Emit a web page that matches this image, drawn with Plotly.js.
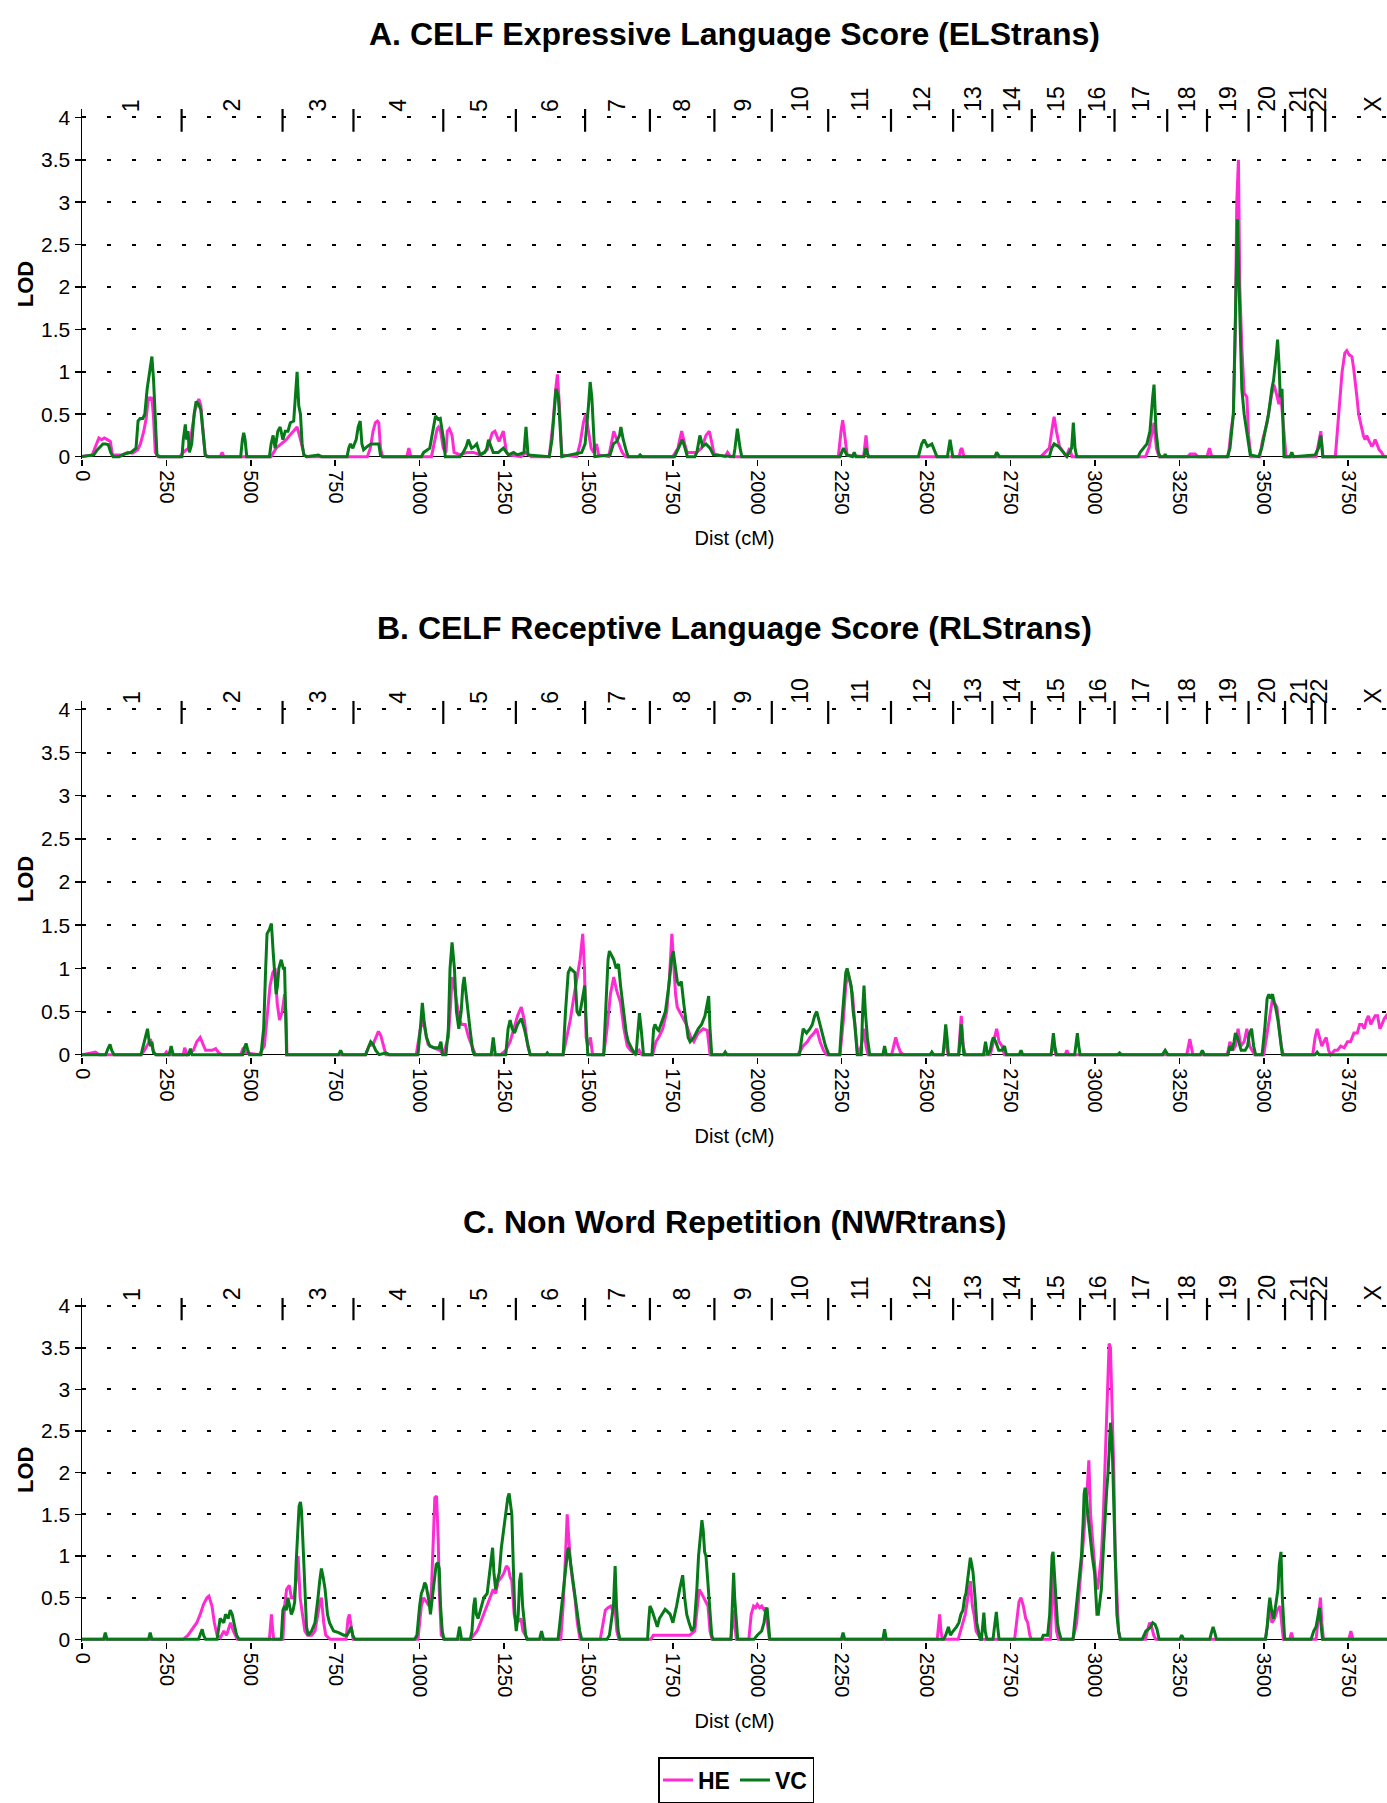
<!DOCTYPE html>
<html>
<head>
<meta charset="utf-8">
<script src="https://cdn.plot.ly/plotly-3.0.1.min.js"></script>
<style>
  html, body { margin: 0; padding: 0; background: #ffffff; }
  #chart { width: 1387px; height: 1803px; }
</style>
</head>
<body>
<div id="chart"></div>
<script>
// Chromosome labels and the map positions (cM) where each chromosome ends
const chromLabels = ['1','2','3','4','5','6','7','8','9','10','11','12','13','14','15','16','17','18','19','20','21','22','X'];
const chromEnds = [295, 594, 804, 1070, 1285, 1490, 1682, 1873, 2043, 2210, 2396, 2580, 2696, 2813, 2956, 3058, 3214, 3332, 3455, 3563, 3642, 3682, 3966];

const distTicks = [0, 250, 500, 750, 1000, 1250, 1500, 1750, 2000, 2250, 2500, 2750, 3000, 3250, 3500, 3750];
const lodTicks = [0, 0.5, 1, 1.5, 2, 2.5, 3, 3.5, 4];

const panelTitles = [
  'A. CELF Expressive Language Score (ELStrans)',
  'B. CELF Receptive Language Score (RLStrans)',
  'C. Non Word Repetition (NWRtrans)'
];

// ---- A: ELStrans, [cM, LOD] ----
const elsHE = [[0,0],[30,0.02],[40,0.12],[50,0.22],[58,0.2],[66,0.22],[75,0.2],[84,0.18],[90,0.02],[120,0.02],[135,0.05],[150,0.04],[165,0.08],[173,0.15],[183,0.3],[190,0.45],[197,0.7],[203,0.68],[207,0.7],[212,0.45],[217,0.05],[225,0],[290,0],[300,0.05],[315,0.1],[325,0.3],[335,0.55],[342,0.65],[346,0.68],[352,0.6],[358,0.3],[365,0.02],[375,0],[410,0],[415,0.05],[420,0],[560,0],[575,0.1],[590,0.15],[605,0.2],[615,0.25],[627,0.3],[637,0.35],[644,0.25],[652,0.1],[658,0.02],[665,0],[845,0],[854,0.1],[862,0.3],[869,0.4],[875,0.42],[879,0.4],[884,0.1],[890,0],[962,0],[968,0.1],[974,0],[1035,0],[1045,0.2],[1052,0.33],[1056,0.35],[1062,0.3],[1070,0.1],[1078,0.05],[1082,0.3],[1088,0.33],[1096,0.25],[1102,0.05],[1120,0.02],[1140,0.05],[1160,0.05],[1180,0.02],[1200,0.08],[1215,0.28],[1223,0.3],[1235,0.18],[1248,0.3],[1257,0.05],[1265,0.02],[1300,0],[1315,0.05],[1330,0],[1384,0],[1395,0.4],[1403,0.8],[1408,0.97],[1414,0.6],[1421,0.02],[1465,0],[1475,0.15],[1485,0.4],[1492,0.5],[1500,0.3],[1508,0.1],[1515,0.05],[1524,0.15],[1530,0.02],[1560,0],[1570,0.2],[1575,0.3],[1582,0.22],[1590,0.15],[1600,0.05],[1610,0],[1750,0],[1765,0.1],[1776,0.3],[1785,0.15],[1792,0.05],[1820,0.05],[1835,0.1],[1848,0.25],[1858,0.3],[1866,0.15],[1872,0.03],[1905,0],[1912,0.05],[1920,0],[2240,0],[2248,0.3],[2253,0.43],[2259,0.25],[2266,0.02],[2315,0],[2322,0.25],[2328,0],[2598,0],[2602,0.08],[2606,0.1],[2612,0],[2840,0],[2852,0.05],[2865,0.1],[2872,0.3],[2879,0.47],[2886,0.3],[2895,0.12],[2907,0.05],[2915,0],[2925,0.1],[2932,0],[3150,0],[3160,0.1],[3170,0.3],[3175,0.4],[3182,0.1],[3190,0],[3275,0],[3282,0.03],[3297,0.03],[3305,0],[3332,0],[3339,0.1],[3346,0],[3395,0],[3403,0.3],[3410,0.5],[3416,1.5],[3420,3.0],[3425,3.5],[3429,2.0],[3435,1.3],[3442,0.75],[3450,0.7],[3455,0.25],[3462,0],[3488,0],[3497,0.2],[3510,0.4],[3522,0.7],[3530,0.85],[3537,0.75],[3545,0.62],[3549,0.8],[3553,0.6],[3558,0.35],[3566,0],[3655,0],[3662,0.15],[3669,0.3],[3675,0],[3712,0],[3722,0.5],[3732,1.0],[3740,1.22],[3746,1.25],[3753,1.2],[3761,1.18],[3766,1.05],[3771,0.9],[3776,0.7],[3781,0.5],[3786,0.4],[3790,0.35],[3795,0.25],[3800,0.2],[3805,0.25],[3810,0.2],[3815,0.15],[3820,0.12],[3825,0.15],[3830,0.2],[3835,0.15],[3842,0.08],[3849,0.05],[3856,0],[3870,0]];
const elsVC = [[0,0],[35,0.02],[45,0.08],[55,0.12],[62,0.15],[70,0.15],[78,0.14],[85,0.05],[92,0],[110,0],[125,0.03],[145,0.05],[160,0.1],[166,0.42],[172,0.45],[180,0.45],[186,0.5],[193,0.8],[197,0.9],[203,1.1],[207,1.18],[212,0.9],[216,0.5],[222,0.02],[230,0],[296,0],[300,0.2],[306,0.38],[310,0.2],[314,0.3],[318,0.05],[325,0.15],[332,0.5],[338,0.65],[345,0.62],[352,0.55],[358,0.3],[365,0.02],[370,0],[470,0],[475,0.2],[479,0.28],[483,0.2],[488,0],[555,0],[560,0.15],[566,0.25],[572,0.1],[580,0.3],[587,0.35],[595,0.2],[602,0.3],[610,0.3],[617,0.4],[627,0.42],[632,0.7],[637,1.0],[642,0.6],[647,0.5],[652,0.15],[657,0.02],[665,0],[700,0.02],[710,0],[785,0],[790,0.1],[795,0.15],[802,0.1],[812,0.2],[818,0.35],[824,0.42],[829,0.15],[834,0.08],[845,0.12],[856,0.15],[868,0.15],[879,0.15],[884,0.02],[890,0],[1005,0],[1012,0.05],[1030,0.1],[1042,0.4],[1047,0.48],[1055,0.44],[1061,0.45],[1067,0.3],[1071,0.2],[1076,0],[1120,0],[1129,0.05],[1138,0.12],[1144,0.2],[1154,0.1],[1162,0.12],[1169,0.15],[1179,0.02],[1193,0.05],[1199,0.1],[1204,0.2],[1213,0.1],[1218,0.05],[1233,0.05],[1248,0.1],[1263,0.02],[1278,0.05],[1290,0.02],[1309,0.05],[1315,0.35],[1321,0.02],[1384,0],[1392,0.2],[1396,0.4],[1404,0.8],[1411,0.7],[1416,0.3],[1421,0],[1480,0.05],[1490,0.15],[1500,0.6],[1505,0.88],[1510,0.7],[1515,0.3],[1519,0],[1564,0.02],[1574,0.15],[1584,0.18],[1592,0.25],[1596,0.35],[1603,0.2],[1613,0.05],[1618,0],[1648,0],[1653,0.02],[1658,0],[1755,0],[1761,0.05],[1771,0.15],[1778,0.2],[1786,0.1],[1793,0],[1815,0],[1821,0.05],[1830,0.25],[1838,0.12],[1848,0.15],[1860,0.1],[1870,0.02],[1930,0],[1934,0.1],[1941,0.33],[1949,0.1],[1954,0],[2245,0],[2255,0.1],[2265,0.02],[2282,0],[2287,0.05],[2292,0],[2316,0],[2322,0.1],[2329,0],[2477,0],[2487,0.15],[2494,0.2],[2504,0.12],[2517,0.15],[2527,0.05],[2532,0],[2563,0],[2571,0.2],[2579,0],[2704,0],[2709,0.05],[2717,0],[2865,0],[2872,0.1],[2879,0.15],[2892,0.12],[2907,0.05],[2917,0],[2931,0.1],[2936,0.4],[2941,0.1],[2946,0],[3128,0],[3134,0.05],[3154,0.15],[3163,0.3],[3171,0.7],[3175,0.85],[3181,0.3],[3188,0.05],[3193,0],[3204,0],[3208,0.03],[3212,0],[3392,0],[3400,0.1],[3410,0.5],[3416,1.5],[3422,2.8],[3427,2.0],[3430,1.5],[3435,0.8],[3442,0.5],[3450,0.3],[3460,0.02],[3485,0],[3494,0.1],[3504,0.3],[3514,0.5],[3524,0.8],[3529,0.9],[3537,1.2],[3541,1.38],[3545,1.1],[3549,0.7],[3554,0.8],[3557,0.4],[3560,0],[3578,0],[3583,0.05],[3588,0],[3652,0.02],[3662,0.1],[3669,0.25],[3675,0],[3870,0]];

// ---- B: RLStrans ----
const rlsHE = [[0,0],[30,0.02],[40,0.03],[50,0],[175,0],[185,0.05],[195,0.12],[203,0.18],[210,0.05],[218,0],[245,0],[250,0.03],[256,0],[300,0],[304,0.08],[312,0],[330,0.05],[340,0.15],[350,0.2],[358,0.12],[366,0.05],[385,0.05],[396,0.07],[405,0.02],[415,0],[470,0],[478,0.08],[485,0.02],[525,0],[540,0.1],[548,0.4],[557,0.8],[565,0.95],[572,1.0],[578,0.6],[585,0.4],[593,0.5],[600,0.7],[604,0.5],[607,0],[840,0],[850,0.1],[862,0.12],[870,0.2],[878,0.27],[885,0.22],[892,0.1],[900,0],[990,0],[1002,0.3],[1010,0.4],[1018,0.25],[1025,0.12],[1040,0.08],[1060,0.05],[1070,0],[1085,0.2],[1092,0.6],[1096,0.9],[1102,0.8],[1110,0.6],[1118,0.4],[1125,0.35],[1135,0.35],[1145,0.2],[1155,0.1],[1165,0],[1240,0],[1255,0.05],[1268,0.15],[1278,0.3],[1290,0.45],[1301,0.55],[1310,0.4],[1320,0.1],[1328,0],[1425,0],[1435,0.2],[1446,0.4],[1458,0.7],[1466,0.9],[1475,1.1],[1483,1.4],[1488,1.0],[1493,0.2],[1498,0.1],[1506,0.2],[1512,0],[1545,0],[1555,0.3],[1565,0.7],[1575,0.9],[1583,0.75],[1595,0.6],[1605,0.3],[1615,0.1],[1625,0.05],[1640,0],[1650,0.05],[1658,0],[1690,0],[1700,0.15],[1708,0.2],[1720,0.3],[1732,0.5],[1740,0.9],[1747,1.4],[1752,1.1],[1758,0.7],[1763,0.55],[1770,0.5],[1778,0.45],[1790,0.35],[1803,0.2],[1812,0.15],[1825,0.25],[1840,0.3],[1852,0.28],[1860,0],[2120,0],[2136,0.1],[2148,0.15],[2156,0.2],[2168,0.25],[2176,0.3],[2186,0.15],[2196,0.05],[2205,0],[2245,0],[2255,0.4],[2262,0.8],[2269,0.95],[2276,0.8],[2282,0.7],[2290,0.3],[2298,0],[2308,0.1],[2316,0.3],[2322,0.1],[2328,0],[2398,0],[2405,0.12],[2410,0.2],[2417,0.1],[2424,0.03],[2432,0],[2550,0],[2558,0.2],[2565,0],[2596,0],[2604,0.45],[2610,0.1],[2616,0],[2690,0],[2702,0.2],[2709,0.3],[2716,0.15],[2725,0.1],[2732,0],[2870,0],[2877,0.15],[2884,0],[2912,0],[2917,0.05],[2922,0],[3272,0],[3281,0.18],[3290,0],[3392,0],[3400,0.15],[3408,0.05],[3416,0.1],[3424,0.3],[3432,0.1],[3442,0.15],[3450,0.3],[3458,0.1],[3466,0.05],[3473,0],[3500,0],[3508,0.2],[3515,0.4],[3526,0.65],[3532,0.6],[3539,0.55],[3546,0.3],[3552,0.1],[3558,0],[3645,0],[3652,0.2],[3658,0.3],[3665,0.2],[3672,0.1],[3678,0.15],[3685,0.2],[3692,0.05],[3698,0],[3710,0.05],[3718,0.05],[3728,0.1],[3738,0.08],[3748,0.15],[3757,0.15],[3767,0.25],[3777,0.25],[3784,0.35],[3791,0.35],[3798,0.3],[3804,0.4],[3810,0.45],[3817,0.35],[3823,0.4],[3830,0.45],[3837,0.45],[3844,0.3],[3850,0.35],[3857,0.42],[3863,0.45],[3870,0.4]];
const rlsVC = [[0,0],[70,0],[78,0.08],[83,0.12],[88,0.05],[95,0],[175,0],[182,0.1],[188,0.2],[194,0.3],[199,0.15],[203,0.1],[207,0.15],[212,0.02],[220,0],[258,0],[264,0.1],[270,0],[316,0],[321,0.07],[326,0],[476,0],[481,0.08],[486,0.13],[491,0.05],[496,0],[530,0],[538,0.3],[544,1.0],[548,1.4],[555,1.45],[561,1.52],[566,1.2],[571,0.9],[575,0.7],[579,0.8],[583,1.0],[590,1.1],[596,1.0],[600,1.0],[603,0.5],[606,0],[760,0],[766,0.05],[772,0],[840,0],[850,0.1],[855,0.15],[862,0.12],[870,0.05],[880,0],[900,0.02],[910,0],[995,0],[1002,0.3],[1008,0.6],[1013,0.4],[1020,0.2],[1030,0.1],[1043,0.08],[1057,0.08],[1063,0.15],[1068,0],[1078,0],[1085,0.3],[1090,1.0],[1096,1.3],[1103,1.0],[1109,0.5],[1116,0.3],[1123,0.5],[1128,0.8],[1132,0.9],[1140,0.6],[1149,0.3],[1157,0.05],[1162,0],[1212,0],[1218,0.2],[1224,0],[1255,0],[1262,0.3],[1268,0.4],[1274,0.3],[1281,0.25],[1290,0.35],[1301,0.42],[1310,0.3],[1321,0.1],[1327,0],[1374,0],[1378,0.02],[1382,0],[1425,0],[1432,0.5],[1440,0.95],[1446,1.0],[1453,0.98],[1460,0.95],[1466,0.5],[1473,0.45],[1480,0.6],[1489,0.8],[1494,0.3],[1498,0],[1545,0],[1552,0.6],[1558,1.1],[1562,1.2],[1568,1.15],[1575,1.1],[1582,1.0],[1589,1.05],[1595,0.8],[1605,0.5],[1612,0.25],[1618,0.15],[1631,0.05],[1640,0],[1642,0.05],[1647,0.3],[1651,0.48],[1656,0.3],[1663,0],[1688,0],[1693,0.3],[1697,0.35],[1703,0.3],[1708,0.28],[1718,0.4],[1728,0.5],[1738,0.8],[1746,1.1],[1751,1.2],[1757,1.0],[1763,0.85],[1769,0.8],[1775,0.85],[1782,0.6],[1789,0.35],[1795,0.2],[1801,0.15],[1812,0.2],[1825,0.3],[1835,0.35],[1845,0.45],[1852,0.62],[1856,0.68],[1860,0.3],[1865,0],[1900,0],[1905,0.03],[1910,0],[2125,0],[2132,0.2],[2136,0.3],[2146,0.25],[2156,0.3],[2163,0.35],[2170,0.45],[2176,0.5],[2182,0.4],[2189,0.3],[2202,0.1],[2212,0],[2244,0],[2249,0.3],[2256,0.7],[2262,0.95],[2266,1.0],[2272,0.9],[2278,0.8],[2284,0.5],[2289,0.35],[2296,0],[2308,0],[2312,0.5],[2316,0.8],[2320,0.5],[2326,0.2],[2333,0],[2372,0],[2377,0.1],[2382,0],[2512,0],[2517,0.03],[2522,0],[2550,0],[2555,0.2],[2558,0.35],[2562,0.2],[2566,0],[2597,0],[2601,0.2],[2604,0.35],[2608,0.15],[2612,0],[2670,0],[2676,0.15],[2682,0],[2690,0.05],[2695,0.15],[2699,0.2],[2706,0.15],[2715,0.05],[2725,0.05],[2732,0.1],[2738,0],[2776,0],[2781,0.05],[2786,0],[2870,0],[2874,0.15],[2877,0.25],[2881,0.1],[2886,0],[2940,0],[2944,0.15],[2948,0.25],[2952,0.1],[2956,0],[3068,0],[3073,0.02],[3078,0],[3200,0],[3208,0.05],[3216,0],[3312,0],[3318,0.05],[3324,0],[3394,0],[3400,0.1],[3406,0.05],[3412,0.15],[3416,0.25],[3422,0.2],[3428,0.1],[3433,0.05],[3445,0.05],[3452,0.1],[3458,0.25],[3464,0.3],[3470,0.1],[3476,0],[3495,0],[3503,0.3],[3510,0.65],[3515,0.7],[3520,0.65],[3526,0.7],[3531,0.6],[3535,0.55],[3542,0.4],[3548,0.2],[3555,0],[3652,0],[3658,0.03],[3664,0],[3870,0]];

// ---- C: NWRtrans ----
const nwrHE = [[0,0],[300,0],[314,0.05],[330,0.15],[340,0.2],[350,0.3],[360,0.42],[370,0.5],[376,0.52],[385,0.4],[392,0.2],[400,0.05],[410,0.02],[420,0.1],[428,0.05],[440,0.2],[448,0.1],[460,0],[555,0],[558,0.15],[561,0.3],[565,0.1],[568,0],[595,0],[600,0.4],[606,0.6],[614,0.65],[620,0.5],[628,0.5],[634,0.7],[640,1.0],[646,0.5],[652,0.3],[660,0.1],[668,0.05],[680,0.05],[690,0.1],[698,0.3],[705,0.45],[709,0.5],[716,0.2],[722,0.05],[735,0],[782,0],[788,0.25],[792,0.3],[797,0.15],[803,0],[995,0],[1005,0.4],[1012,0.5],[1019,0.45],[1028,0.4],[1035,0.6],[1041,1.2],[1045,1.7],[1050,1.72],[1055,1.2],[1058,0.6],[1064,0.05],[1075,0],[1150,0],[1160,0.05],[1170,0.1],[1180,0.2],[1190,0.3],[1200,0.4],[1210,0.5],[1218,0.6],[1225,0.55],[1233,0.7],[1243,0.75],[1250,0.8],[1257,0.88],[1263,0.85],[1268,0.75],[1273,0.7],[1280,0.3],[1286,0.2],[1293,0.22],[1300,0.25],[1306,0.1],[1313,0.05],[1320,0],[1418,0],[1425,0.4],[1432,1.0],[1437,1.5],[1442,1.2],[1447,0.9],[1453,0.7],[1460,0.5],[1467,0.2],[1475,0],[1535,0],[1543,0.2],[1550,0.35],[1558,0.38],[1566,0.4],[1572,0.35],[1578,0.4],[1584,0.1],[1590,0],[1685,0],[1692,0.05],[1720,0.05],[1760,0.05],[1800,0.05],[1815,0.1],[1822,0.4],[1828,0.6],[1835,0.55],[1841,0.5],[1848,0.45],[1854,0.4],[1860,0.1],[1866,0],[1922,0],[1927,0.2],[1930,0.35],[1934,0.15],[1938,0],[1975,0],[1982,0.3],[1989,0.4],[1995,0.38],[2000,0.42],[2007,0.38],[2013,0.4],[2019,0.36],[2024,0.38],[2030,0.15],[2036,0],[2533,0],[2537,0.2],[2540,0.3],[2544,0.1],[2548,0],[2595,0],[2603,0.1],[2609,0.2],[2616,0.3],[2624,0.5],[2631,0.7],[2637,0.4],[2642,0.3],[2648,0.1],[2655,0.05],[2662,0],[2762,0],[2768,0.2],[2775,0.45],[2781,0.5],[2788,0.4],[2795,0.25],[2801,0.2],[2807,0.05],[2812,0],[2868,0],[2872,0.4],[2876,0.8],[2880,0.5],[2886,0.1],[2892,0],[2935,0],[2946,0.2],[2955,0.6],[2962,1.0],[2966,1.2],[2972,1.5],[2977,1.8],[2982,2.15],[2987,1.5],[2993,1.2],[2998,0.9],[3003,0.7],[3008,0.6],[3014,0.8],[3019,1.0],[3025,1.5],[3032,2.3],[3037,3.0],[3042,3.55],[3046,3.5],[3048,3.2],[3052,2.5],[3056,2.0],[3060,1.0],[3065,0.5],[3070,0.1],[3075,0],[3150,0],[3155,0.1],[3162,0.2],[3168,0.15],[3174,0.05],[3180,0],[3505,0],[3512,0.2],[3518,0.4],[3524,0.2],[3532,0.25],[3540,0.35],[3548,0.4],[3553,0.2],[3558,0],[3577,0],[3582,0.08],[3587,0],[3655,0],[3660,0.2],[3665,0.4],[3668,0.5],[3672,0.2],[3677,0],[3752,0],[3758,0.1],[3764,0],[3870,0]];
const nwrVC = [[0,0],[64,0],[69,0.08],[74,0],[197,0],[202,0.08],[207,0],[345,0],[352,0.08],[356,0.12],[360,0.05],[366,0],[400,0],[405,0.15],[409,0.25],[415,0.22],[420,0.2],[425,0.3],[433,0.25],[439,0.35],[445,0.3],[450,0.2],[458,0.05],[465,0],[590,0],[595,0.35],[600,0.4],[605,0.35],[610,0.5],[615,0.4],[620,0.3],[625,0.35],[630,0.45],[634,0.9],[637,1.2],[640,1.5],[643,1.6],[647,1.65],[650,1.55],[654,1.2],[660,0.5],[665,0.15],[670,0.05],[680,0.1],[690,0.2],[695,0.35],[699,0.5],[704,0.7],[709,0.85],[714,0.75],[720,0.6],[727,0.3],[733,0.2],[745,0.1],[760,0.08],[775,0.05],[785,0.05],[792,0.1],[797,0.15],[802,0.05],[808,0],[985,0],[992,0.05],[1000,0.4],[1005,0.55],[1010,0.6],[1015,0.68],[1019,0.65],[1024,0.55],[1028,0.45],[1032,0.3],[1036,0.45],[1041,0.6],[1045,0.8],[1049,0.9],[1054,0.92],[1058,0.85],[1062,0.4],[1067,0.1],[1072,0],[1112,0],[1118,0.15],[1124,0],[1150,0],[1155,0.1],[1160,0.4],[1164,0.5],[1168,0.3],[1173,0.25],[1180,0.35],[1190,0.5],[1200,0.55],[1208,0.8],[1213,1.0],[1216,1.1],[1220,0.8],[1225,0.6],[1230,0.7],[1236,0.8],[1242,1.1],[1249,1.3],[1256,1.5],[1261,1.7],[1265,1.75],[1269,1.65],[1273,1.5],[1278,0.8],[1282,0.3],[1286,0.1],[1292,0.3],[1296,0.7],[1300,0.8],[1305,0.4],[1309,0.2],[1314,0.05],[1318,0],[1355,0],[1361,0.1],[1367,0],[1410,0],[1415,0.2],[1421,0.45],[1428,0.7],[1434,0.9],[1438,1.05],[1441,1.1],[1446,0.95],[1451,0.8],[1456,0.6],[1460,0.5],[1467,0.3],[1474,0.1],[1480,0],[1555,0],[1562,0.05],[1570,0.25],[1574,0.4],[1577,0.7],[1579,0.88],[1583,0.4],[1588,0.1],[1593,0],[1675,0],[1678,0.2],[1682,0.4],[1688,0.35],[1697,0.25],[1704,0.15],[1710,0.25],[1717,0.3],[1727,0.36],[1735,0.33],[1742,0.3],[1750,0.2],[1756,0.3],[1761,0.4],[1770,0.6],[1779,0.77],[1785,0.5],[1791,0.3],[1798,0.2],[1806,0.1],[1813,0.15],[1818,0.4],[1821,0.6],[1826,1.0],[1829,1.15],[1833,1.35],[1836,1.43],[1840,1.3],[1844,1.05],[1848,1.0],[1851,0.85],[1855,0.6],[1860,0.3],[1865,0.05],[1869,0],[1922,0],[1926,0.4],[1930,0.8],[1933,0.5],[1936,0.3],[1942,0],[1990,0],[2000,0.05],[2013,0.1],[2020,0.2],[2025,0.35],[2029,0.38],[2033,0.2],[2037,0],[2249,0],[2254,0.08],[2259,0],[2372,0],[2377,0.12],[2382,0],[2552,0],[2558,0.05],[2566,0.15],[2572,0.05],[2580,0.1],[2590,0.15],[2597,0.2],[2603,0.3],[2609,0.35],[2614,0.5],[2618,0.55],[2622,0.7],[2625,0.8],[2628,0.95],[2631,0.98],[2635,0.9],[2639,0.8],[2645,0.5],[2650,0.2],[2655,0.1],[2660,0],[2664,0],[2668,0.2],[2671,0.32],[2675,0.1],[2680,0],[2698,0],[2703,0.2],[2708,0.33],[2712,0.15],[2716,0],[2842,0],[2847,0.05],[2852,0.05],[2860,0.05],[2866,0.3],[2870,0.8],[2873,1.0],[2876,1.05],[2880,0.8],[2884,0.5],[2889,0.2],[2893,0.1],[2900,0],[2935,0],[2942,0.3],[2950,0.6],[2956,0.85],[2960,1.0],[2965,1.4],[2968,1.75],[2971,1.82],[2975,1.7],[2979,1.5],[2986,1.2],[2992,1.0],[2999,0.8],[3003,0.5],[3006,0.3],[3010,0.3],[3015,0.5],[3019,0.6],[3024,1.0],[3030,1.5],[3035,1.8],[3039,2.0],[3043,2.4],[3046,2.6],[3049,2.45],[3052,2.2],[3056,1.6],[3059,1.2],[3062,0.6],[3065,0.3],[3070,0.1],[3075,0],[3140,0],[3146,0.05],[3151,0.1],[3158,0.12],[3165,0.15],[3171,0.2],[3178,0.18],[3184,0.12],[3190,0],[3251,0],[3257,0.05],[3263,0],[3340,0],[3345,0.08],[3350,0.15],[3355,0.08],[3360,0],[3505,0],[3510,0.15],[3514,0.35],[3518,0.5],[3523,0.35],[3529,0.25],[3535,0.4],[3542,0.6],[3546,0.9],[3551,1.05],[3555,0.5],[3559,0.1],[3562,0],[3640,0],[3648,0.1],[3655,0.15],[3660,0.25],[3665,0.38],[3669,0.2],[3674,0],[3870,0]];

// ---- drawing ----
const FONT = 'Liberation Sans, Arial, Helvetica, sans-serif';
const HE_COLOR = '#ff2bd2';
const VC_COLOR = '#067a18';
const X_MAX = 3865;
const Y_MIN = -0.03, Y_MAX = 4.1;

// vertical extent of each panel's plot area (paper fractions)
const panels = [
  {xa: 'x',  ya: 'y',  dom: [0.74476, 0.93943], he: elsHE, vc: elsVC, titleY: 0.98087},
  {xa: 'x2', ya: 'y2', dom: [0.41231, 0.61046], he: rlsHE, vc: rlsVC, titleY: 0.65114},
  {xa: 'x3', ya: 'y3', dom: [0.08735, 0.27862], he: nwrHE, vc: nwrVC, titleY: 0.32058}
];
const X_DOMAIN = [82 / 1387, 1];

const traces = [];
const shapes = [];
const annotations = [];
const layout = {
  width: 1387, height: 1803,
  margin: {l: 0, r: 0, t: 0, b: 0, pad: 0},
  paper_bgcolor: '#ffffff', plot_bgcolor: '#ffffff',
  font: {family: FONT, size: 20, color: '#000000'},
  showlegend: true,
  legend: {
    orientation: 'h', x: 736 / 1387, xanchor: 'center', y: 1 - 1784 / 1803, yanchor: 'middle',
    bordercolor: '#000000', borderwidth: 1.5, bgcolor: '#ffffff',
    font: {family: FONT, size: 23, weight: 'bold', color: '#000000'},
    itemwidth: 30, tracegroupgap: 0
  }
};

panels.forEach((p, i) => {
  const xs = a => a.map(d => d[0]);
  const ys = a => a.map(d => d[1]);
  traces.push({
    type: 'scatter', mode: 'lines', name: 'HE', xaxis: p.xa, yaxis: p.ya,
    x: xs(p.he), y: ys(p.he), line: {color: HE_COLOR, width: 3},
    showlegend: i === 0, legendgroup: 'HE', hoverinfo: 'skip'
  });
  traces.push({
    type: 'scatter', mode: 'lines', name: 'VC', xaxis: p.xa, yaxis: p.ya,
    x: xs(p.vc), y: ys(p.vc), line: {color: VC_COLOR, width: 3},
    showlegend: i === 0, legendgroup: 'VC', hoverinfo: 'skip'
  });

  const xKey = 'xaxis' + (i ? i + 1 : '');
  const yKey = 'yaxis' + (i ? i + 1 : '');
  layout[xKey] = {
    domain: X_DOMAIN, anchor: p.ya, range: [0, X_MAX], autorange: false,
    tickmode: 'array', tickvals: distTicks, ticktext: distTicks.map(String),
    ticks: 'outside', ticklen: 6, tickwidth: 1.5, tickcolor: '#000000',
    tickangle: 90, tickfont: {family: FONT, size: 20, color: '#000000'},
    showline: false, showgrid: false, zeroline: false, automargin: false,
    title: {text: 'Dist (cM)', font: {family: FONT, size: 20, color: '#000000'}, standoff: 17}
  };
  layout[yKey] = {
    domain: p.dom, anchor: p.xa, range: [Y_MIN, Y_MAX], autorange: false,
    tickmode: 'array', tickvals: lodTicks, ticktext: lodTicks.map(String),
    ticks: 'outside', ticklen: 6, tickwidth: 1.5, tickcolor: '#000000',
    tickfont: {family: FONT, size: 21, color: '#000000'},
    showline: true, linecolor: '#000000', linewidth: 1.5,
    showgrid: true, gridcolor: '#000000', gridwidth: 2, griddash: '4px,21px',
    zeroline: true, zerolinecolor: '#000000', zerolinewidth: 1.5,
    automargin: false,
    title: {text: 'LOD', font: {family: FONT, size: 22, weight: 'bold', color: '#000000'}, standoff: 1}
  };

  // chromosome boundary marks along the top
  chromEnds.forEach(b => {
    if (b >= X_MAX) return;
    shapes.push({type: 'line', xref: p.xa, yref: p.ya, x0: b, x1: b, y0: 3.83, y1: 4.1,
                 line: {color: '#000000', width: 2.2}});
  });

  // chromosome numbers centred on each chromosome
  chromLabels.forEach((lab, k) => {
    const start = k === 0 ? 0 : chromEnds[k - 1];
    const mid = (start + chromEnds[k]) / 2;
    annotations.push({
      xref: p.xa, yref: p.ya, x: mid, y: Y_MAX, xanchor: 'center', yanchor: 'bottom',
      yshift: -5, text: lab, textangle: -90, showarrow: false,
      font: {family: FONT, size: 23, color: '#000000'}
    });
  });

  // panel heading
  annotations.push({
    xref: 'paper', yref: 'paper', x: 734.5 / 1387, y: p.titleY, xanchor: 'center', yanchor: 'middle',
    text: panelTitles[i], showarrow: false,
    font: {family: FONT, size: 32, weight: 'bold', color: '#000000'}
  });
});

layout.shapes = shapes;
layout.annotations = annotations;

Plotly.newPlot('chart', traces, layout, {staticPlot: true, displayModeBar: false});
</script>
</body>
</html>
